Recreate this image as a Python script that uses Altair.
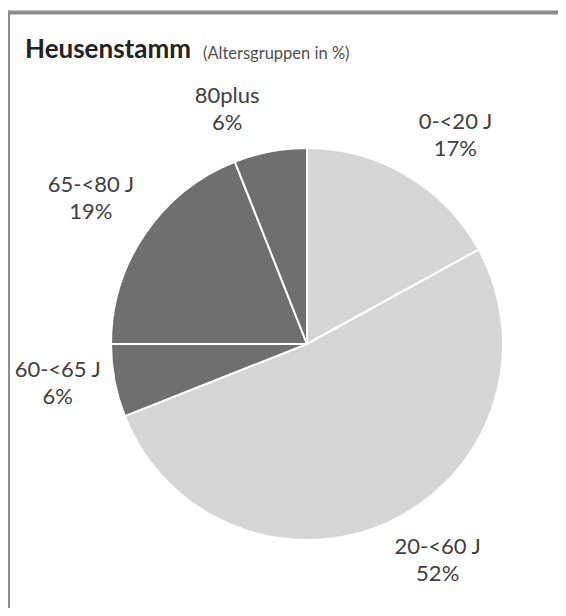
import altair as alt
import pandas as pd

categories = ["0-<20 J", "20-<60 J", "60-<65 J", "65-<80 J", "80plus"]
values = [17, 52, 6, 19, 6]
slice_colors = ["#d5d5d5", "#d5d5d5", "#6f6f6f", "#6f6f6f", "#6f6f6f"]
title_main = "Heusenstamm"
title_sub = "(Altersgruppen in %)"

total = sum(values)
df = pd.DataFrame({
    "cat": categories,
    "val": values,
    "idx": list(range(len(categories))),
    "label": [f"{c}\n{v}%" for c, v in zip(categories, values)],
})

CX, CY = 299, 336
R = 196
LH = 27
theta_scale = alt.Scale(domain=[0, total], range=[0, 6.283185307179586])

pie = alt.Chart(df).mark_arc(radius=R, stroke="white", strokeWidth=2).encode(
    theta=alt.Theta("val:Q", stack=True, scale=theta_scale),
    order=alt.Order("idx:O"),
    color=alt.Color("cat:N", scale=alt.Scale(domain=categories, range=slice_colors), legend=None),
    x=alt.value(CX), y=alt.value(CY),
)

lab_base = alt.Chart(df).transform_window(
    cum="sum(val)", sort=[alt.SortField("idx")]
).transform_calculate(
    mid="datum.cum - datum.val / 2",
    ang=f"2 * PI * (datum.cum - datum.val / 2) / {total}",
).transform_calculate(
    hs="sin(datum.ang) >= 0 ? 'R' : 'L'",
    vs="cos(datum.ang) > 0.3 ? 'bottom' : (cos(datum.ang) < -0.3 ? 'top' : 'middle')",
)

vshift = {"bottom": -LH, "top": 0, "middle": -LH / 2}
label_layers = []
for hs, dx in [("R", 40), ("L", -40)]:
    for vs in ["bottom", "top", "middle"]:
        label_layers.append(
            lab_base.transform_filter(
                f"datum.hs == '{hs}' && datum.vs == '{vs}'"
            ).mark_text(
                radius=213, font="Lato", fontSize=22, color="#404040",
                lineBreak="\n", lineHeight=LH, align="center", baseline=vs,
                dx=dx, dy=vshift[vs],
            ).encode(
                theta=alt.Theta("mid:Q", stack=None, scale=theta_scale),
                text="label:N", x=alt.value(CX), y=alt.value(CY),
            )
        )

tdf = pd.DataFrame({"t": [title_main]})
sdf = pd.DataFrame({"t": [title_sub]})
t1 = alt.Chart(tdf).mark_text(
    font="Lato", fontSize=26, fontWeight="bold", color="#222222", align="left", baseline="alphabetic"
).encode(text="t:N", x=alt.value(17), y=alt.value(50))
t2 = alt.Chart(sdf).mark_text(
    font="Lato", fontSize=16.5, color="#505050", align="left", baseline="alphabetic"
).encode(text="t:N", x=alt.value(195), y=alt.value(51))

frame_top = alt.Chart(tdf).mark_rule(color="#8c8c8c", strokeWidth=4).encode(
    x=alt.value(-2), x2=alt.value(560), y=alt.value(4.5)
)
frame_left = alt.Chart(tdf).mark_rule(color="#8c8c8c", strokeWidth=4).encode(
    x=alt.value(0), y=alt.value(2.5), y2=alt.value(600)
)

chart = alt.layer(pie, *label_layers, t1, t2, frame_top, frame_left).properties(
    width=550, height=600, padding=0, autosize=alt.AutoSizeParams(type="none")
).configure_view(stroke=None)

chart.save("out.html", embed_options={"renderer": "svg", "actions": False})
